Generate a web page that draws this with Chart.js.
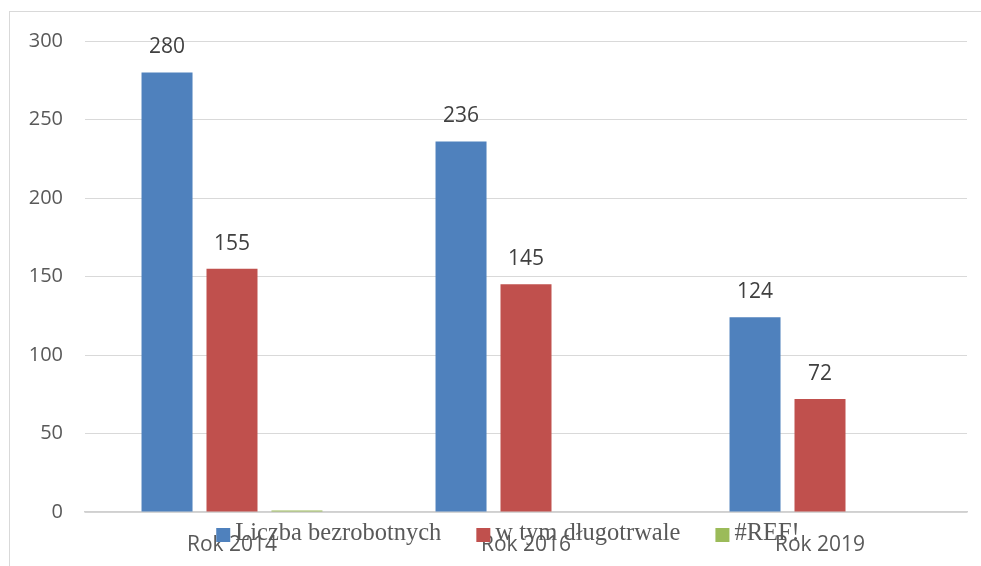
<!DOCTYPE html>
<html><head><meta charset="utf-8">
<script src="https://cdn.jsdelivr.net/npm/chart.js@4"></script>
<style>
html,body{margin:0;padding:0;background:#fff;}
#wrap{position:relative;width:981px;height:566px;overflow:hidden;}
#frame{position:absolute;left:9px;top:11px;width:1000px;height:600px;border:1px solid #d9d9d9;box-sizing:border-box;}
canvas{position:absolute;left:0;top:0;}
</style></head>
<body>
<div id="wrap"><div id="frame"></div><canvas id="c" width="981" height="566"></canvas></div>
<script>
const categories = ["Rok 2014", "Rok 2016", "Rok 2019"];
const seriesNames = ["Liczba bezrobotnych", "w tym długotrwale", "#REF!"];
const unemployed = [280, 236, 124];
const longTerm = [155, 145, 72];
const refSeries = [1, 0, 0];
const yTicks = [0, 50, 100, 150, 200, 250, 300];
const colors = ["#4F81BD", "#C0504D", "#9BBB59"];

const labelPlugin = {
  id: 'labels',
  afterDatasetsDraw(chart) {
    const ctx = chart.ctx;
    ctx.save();
    ctx.font = '21px "Open Sans", "Liberation Sans", sans-serif';
    ctx.fillStyle = '#404040';
    ctx.textAlign = 'center';
    ctx.textBaseline = 'middle';
    [0, 1].forEach(di => {
      const meta = chart.getDatasetMeta(di);
      meta.data.forEach((bar, i) => {
        const v = chart.data.datasets[di].data[i];
        ctx.fillText(String(v), bar.x, bar.y - 25);
      });
    });
    ctx.restore();
  }
};

const legendPlugin = {
  id: 'customLegend',
  afterDraw(chart) {
    const ctx = chart.ctx;
    ctx.save();
    ctx.font = '24.5px "Liberation Serif", "DejaVu Serif", serif';
    ctx.textBaseline = 'middle';
    const box = 14, gapBox = 5, gapItem = 35;
    const ds = chart.data.datasets;
    let widths = ds.map(d => box + gapBox + ctx.measureText(d.label).width);
    let total = widths.reduce((a, b) => a + b, 0) + gapItem * (ds.length - 1);
    let x = 508 - total / 2;
    const y = 534;
    ds.forEach((d, i) => {
      ctx.fillStyle = d.backgroundColor;
      ctx.fillRect(x, 528, box, box);
      ctx.fillStyle = '#595959';
      ctx.fillText(d.label, x + box + gapBox, y);
      x += widths[i] + gapItem;
    });
    ctx.restore();
  }
};

new Chart(document.getElementById('c'), {
  type: 'bar',
  data: {
    labels: categories,
    datasets: [
      { label: seriesNames[0], data: unemployed, backgroundColor: colors[0] },
      { label: seriesNames[1], data: longTerm, backgroundColor: colors[1] },
      { label: seriesNames[2], data: refSeries, backgroundColor: colors[2] }
    ]
  },
  options: {
    responsive: false,
    animation: false,
    layout: { padding: { left: 0, top: 41, right: 14, bottom: 0 } },
    datasets: { bar: { barPercentage: 0.785, categoryPercentage: 0.663 } },
    plugins: { legend: { display: false }, tooltip: { enabled: false } },
    scales: {
      x: {
        grid: { display: false, drawTicks: false },
        border: { display: true, color: '#d0d0d0', width: 1.5 },
        ticks: {
          padding: 20,
          color: '#595959',
          font: { family: '"Open Sans", "Liberation Sans", sans-serif', size: 21 }
        },
        afterFit(s) { s.height = 54; }
      },
      y: {
        min: 0, max: 300,
        afterBuildTicks(s) { s.ticks = yTicks.map(v => ({ value: v })); },
        grid: { color: '#d9d9d9', lineWidth: 1, drawTicks: false },
        border: { display: false },
        ticks: {
          padding: 22,
          color: '#595959',
          font: { family: '"Open Sans", "Liberation Sans", sans-serif', size: 20 }
        },
        afterFit(s) { s.width = 85; }
      }
    }
  },
  plugins: [labelPlugin, legendPlugin]
});
</script>
</body></html>
